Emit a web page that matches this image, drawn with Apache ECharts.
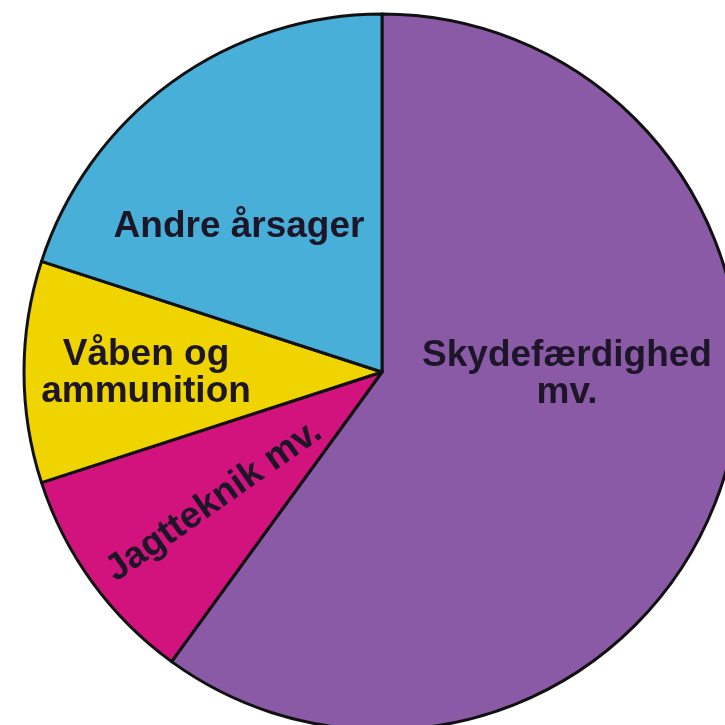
<!DOCTYPE html>
<html>
<head>
<meta charset="utf-8">
<script src="https://cdn.jsdelivr.net/npm/echarts@6/dist/echarts.min.js"></script>
<style>
html,body{margin:0;padding:0;background:#fff;}
#chart{width:725px;height:725px;}
</style>
</head>
<body>
<div id="chart"></div>
<script>
const categories = ['Skydefærdighed\nmv.', 'Jagtteknik mv.', 'Våben og\nammunition', 'Andre årsager'];
const values = [60, 10, 10, 20];

const colors = ['#8a5aa6', '#d2127d', '#efd400', '#47afd8'];
const labelPos = [[567, 374], [214, 501], [146, 373], [239, 227]];
const labelRot = [0, 35, 0, 0];

const chart = echarts.init(document.getElementById('chart'));
chart.setOption({
  animation: false,
  series: [{
    type: 'pie',
    center: [382, 372],
    radius: 358,
    startAngle: 90,
    clockwise: true,
    label: {
      show: true,
      position: 'inside',
      fontFamily: 'Liberation Sans, Arial, sans-serif',
      fontWeight: 'bold',
      fontSize: 37,
      lineHeight: 37,
      color: '#1c1628',
      align: 'center'
    },
    labelLine: {show: false},
    labelLayout: function (p) {
      const pos = labelPos[p.dataIndex];
      return {x: pos[0], y: pos[1], align: 'center', verticalAlign: 'middle'};
    },
    itemStyle: {borderColor: '#111', borderWidth: 3},
    emphasis: {disabled: true},
    data: categories.map((c, i) => ({
      name: c,
      value: values[i],
      itemStyle: {color: colors[i]},
      label: {rotate: labelRot[i]}
    }))
  }]
});
</script>
</body>
</html>
